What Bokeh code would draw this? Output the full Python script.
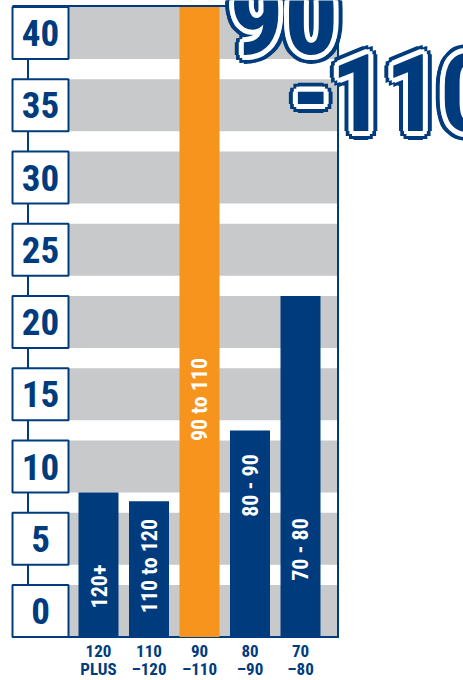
import numpy as np
from bokeh.plotting import figure
from bokeh.models import Range1d, ColumnDataSource
from bokeh.core.properties import value
from bokeh.embed import file_html
from bokeh.resources import INLINE

# ---- data ----
categories = ["120+", "110-120", "90-110", "80-90", "70-80"]
values = [8.2, 7.6, 44.0, 12.5, 21.8]
bar_labels = ["120+", "110  to 120", "90 to 110", "80 - 90", "70 - 80"]
x_labels_top = ["120", "110", "90", "80", "70"]
x_labels_bottom = ["PLUS", "\u2013120", "\u2013110", "\u201390", "\u201380"]
y_ticks = [0, 5, 10, 15, 20, 25, 30, 35, 40]
title_lines = ["90", "-110"]
highlight = "90-110"

# ---- style ----
BLUE = "#003c7d"
ORANGE = "#f7941e"
GRAY = "#c8c9cb"
FONT = value("'Roboto Condensed', 'Open Sans Condensed', sans-serif")

# pixel <-> data helpers (layout only)
X0, DX = 98.0, 50.5
Y0, DY = 610.5, 14.45
def xu(px):
    return (px - X0) / DX
def yu(py):
    return (Y0 - py) / DY

W, H = 463, 680
p = figure(width=W, height=H, x_range=Range1d(xu(0), xu(W)), y_range=Range1d(yu(H), yu(0)),
           min_border=0, toolbar_location=None, output_backend="svg",
           x_axis_type=None, y_axis_type=None, outline_line_color=None,
           background_fill_color="white", border_fill_color="white")
p.grid.visible = False

HALF = 1.8
# gray bands
ticks = np.array(y_ticks, dtype=float)
p.quad(left=xu(68), right=xu(337), bottom=ticks - HALF, top=ticks + HALF,
       fill_color=GRAY, line_color=None)

top_v = yu(5.5)
bot_v = yu(636.5)
# frame lines
p.segment(x0=[xu(27.5), xu(12), xu(337.5), xu(12)],
          y0=[top_v, top_v, top_v, bot_v],
          x1=[xu(27.5), xu(338.5), xu(337.5), xu(338.5)],
          y1=[bot_v, top_v, bot_v, bot_v],
          line_color=BLUE, line_width=2)

# bars
xs = np.arange(len(categories))
vals = np.array(values)
tops = np.minimum(vals, yu(6.5))
colors = [ORANGE if c == highlight else BLUE for c in categories]
p.vbar(x=xs, width=40 / DX, bottom=-HALF, top=tops, fill_color=colors, line_color=None)

# tick boxes
p.quad(left=xu(12), right=xu(68), bottom=ticks - HALF, top=ticks + HALF,
       fill_color="white", line_color=BLUE, line_width=2)
p.text(x=[xu(40)] * len(y_ticks), y=ticks, text=[str(t) for t in y_ticks],
       text_font=FONT, text_font_style="bold", text_font_size="37px",
       text_color=BLUE, text_align="center", text_baseline="middle")

# bar labels (rotated)
label_py = [586, 563, 399, 485, 549]
p.text(x=xs, y=[yu(v) for v in label_py], text=bar_labels, angle=np.pi / 2,
       text_font=FONT, text_font_style="bold", text_font_size="22px",
       text_color="white", text_align="center", text_baseline="middle")

# x labels
p.text(x=xs, y=[yu(650)] * len(xs), text=x_labels_top,
       text_font=FONT, text_font_style="bold", text_font_size="17px",
       text_color=BLUE, text_align="center", text_baseline="middle")
p.text(x=xs, y=[yu(668.5)] * len(xs), text=x_labels_bottom,
       text_font=FONT, text_font_style="bold", text_font_size="17px",
       text_color=BLUE, text_align="center", text_baseline="middle")

# big outlined title
def ring(r, n):
    a = np.linspace(0, 2 * np.pi, n, endpoint=False)
    return list(r * np.cos(a)), list(r * np.sin(a))

layers = [(BLUE, ring(9, 12)), ("white", ring(5, 10)), (BLUE, ([0.0], [0.0]))]

title_pos = [(338, 15, "right"), (291, 92, "left")]
for color, (ox, oy) in layers:
    for (tx, ty, al), txt in zip(title_pos, title_lines):
        n = len(ox)
        src = ColumnDataSource(dict(x=[xu(tx)] * n, y=[yu(ty)] * n, text=[txt] * n,
                                    xo=ox, yo=oy))
        p.text(x="x", y="y", text="text", x_offset="xo", y_offset="yo", source=src,
               text_font=FONT, text_font_style="bold", text_font_size="108px",
               text_color=color, text_align=al, text_baseline="middle")

open("out.html", "w").write(file_html(p, INLINE))
